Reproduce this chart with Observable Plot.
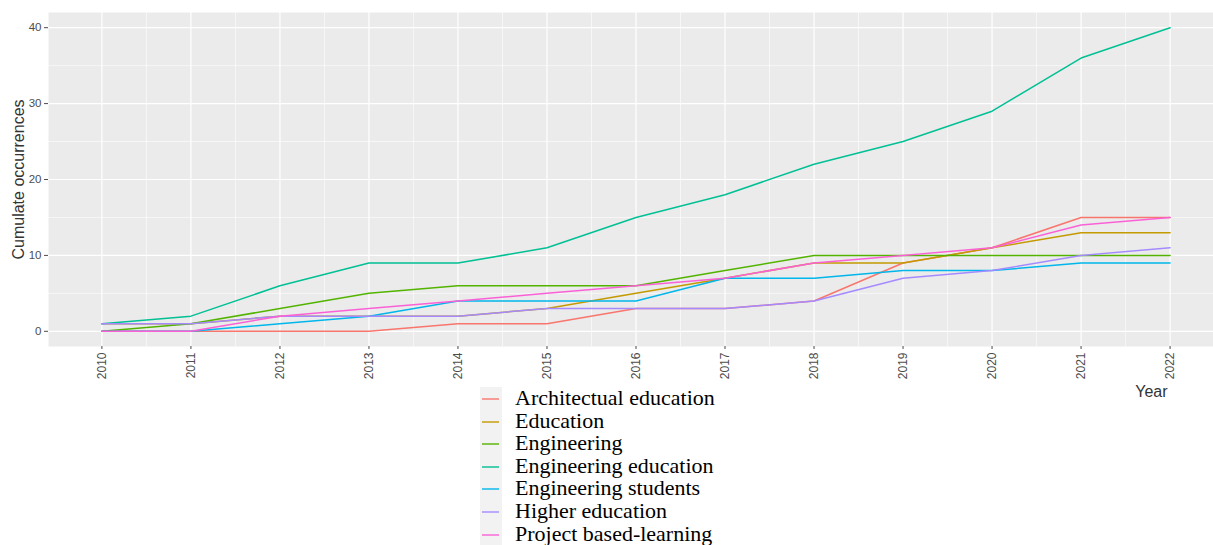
<!DOCTYPE html>
<html>
<head>
<meta charset="utf-8">
<script src="https://cdn.jsdelivr.net/npm/d3@7"></script>
<script src="https://cdn.jsdelivr.net/npm/@observablehq/plot@0.6"></script>
<style>
  html, body { margin: 0; padding: 0; background: #fff; }
  #wrap { position: relative; width: 1213px; height: 545px; overflow: hidden; font-family: "Liberation Sans", Arial, sans-serif; }
  #chart { position: absolute; left: 0; top: 0; width: 1225px; }
  #chart svg { max-width: none !important; }
  #legend { position: absolute; left: 480px; top: 387px; font-family: "Liberation Serif", "Times New Roman", serif; font-size: 22px; color: #000; }
  .row { display: flex; align-items: center; height: 22.6px; }
  .key { width: 22px; height: 22.6px; background: #F2F2F2; margin-right: 13px; display: block; }
  .lab { white-space: nowrap; line-height: 22.6px; }
</style>
</head>
<body>
<div id="wrap">
  <div id="chart"></div>
  <div id="legend"></div>
</div>
<script>
const years = [2010, 2011, 2012, 2013, 2014, 2015, 2016, 2017, 2018, 2019, 2020, 2021, 2022];
const seriesNames = ["Architectual education", "Education", "Engineering", "Engineering education", "Engineering students", "Higher education", "Project based-learning"];
const seriesColors = ["#F8766D", "#C49A00", "#53B400", "#00C094", "#00B6EB", "#A58AFF", "#FB61D7"];

const architecturalEducation = [0, 0, 0, 0, 1, 1, 3, 3, 4, 9, 11, 15, 15];
const education              = [1, 1, 2, 2, 2, 3, 5, 7, 9, 9, 11, 13, 13];
const engineering            = [0, 1, 3, 5, 6, 6, 6, 8, 10, 10, 10, 10, 10];
const engineeringEducation   = [1, 2, 6, 9, 9, 11, 15, 18, 22, 25, 29, 36, 40];
const engineeringStudents    = [0, 0, 1, 2, 4, 4, 4, 7, 7, 8, 8, 9, 9];
const higherEducation        = [1, 1, 2, 2, 2, 3, 3, 3, 4, 7, 8, 10, 11];
const projectBasedLearning   = [0, 0, 2, 3, 4, 5, 6, 7, 9, 10, 11, 14, 15];

const yTicks = [0, 10, 20, 30, 40];
const yMinor = [5, 15, 25, 35];

const seriesValues = [architecturalEducation, education, engineering, engineeringEducation, engineeringStudents, higherEducation, projectBasedLearning];
const data = [];
seriesNames.forEach((name, i) => {
  years.forEach((yr, j) => data.push({series: name, year: yr, value: seriesValues[i][j]}));
});
const xMinor = years.slice(0, -1).map(y => y + 0.5);

const chart = Plot.plot({
  width: 1225,
  height: 400,
  marginLeft: 48,
  marginRight: 2,
  marginTop: 12,
  marginBottom: 54,
  style: {fontFamily: "'Liberation Sans', Arial, sans-serif", background: "transparent", overflow: "visible", maxWidth: "none"},
  x: {domain: [2009.4, 2022.6]},
  y: {domain: [-2, 42]},
  color: {domain: seriesNames, range: seriesColors},
  marks: [
    Plot.frame({fill: "#EBEBEB", stroke: null}),
    Plot.ruleY(yMinor, {stroke: "#fff", strokeWidth: 0.6}),
    Plot.ruleX(xMinor, {stroke: "#fff", strokeWidth: 0.6}),
    Plot.ruleY(yTicks, {stroke: "#fff", strokeWidth: 1.2}),
    Plot.ruleX(years, {stroke: "#fff", strokeWidth: 1.2}),
    Plot.line(data, {x: "year", y: "value", z: "series", stroke: "series", strokeWidth: 1.5}),
    Plot.axisY({ticks: yTicks, tickSize: 4, tickPadding: 3, fontSize: 11.5, color: "#4D4D4D", label: null}),
    Plot.axisX({ticks: years, tickFormat: d => String(d), tickSize: 3, tickPadding: 3, tickRotate: -90, fontSize: 12, color: "#4D4D4D", label: null}),
    Plot.text(["Cumulate occurrences"], {frameAnchor: "left", dx: -30, rotate: -90, textAnchor: "middle", fontSize: 16, fill: "#333"}),
    Plot.text(["Year"], {frameAnchor: "bottom-right", dx: -56, dy: 50, fontSize: 16, fill: "#333", textAnchor: "end"})
  ]
});
document.getElementById("chart").appendChild(chart);

const legend = document.getElementById("legend");
seriesNames.forEach((name, i) => {
  const row = document.createElement("div");
  row.className = "row";
  row.innerHTML = `<svg class="key" width="22" height="22.6"><line x1="2" x2="19" y1="12" y2="12" stroke="${seriesColors[i]}" stroke-width="1.4"/></svg><div class="lab">${name}</div>`;
  legend.appendChild(row);
});
</script>
</body>
</html>
